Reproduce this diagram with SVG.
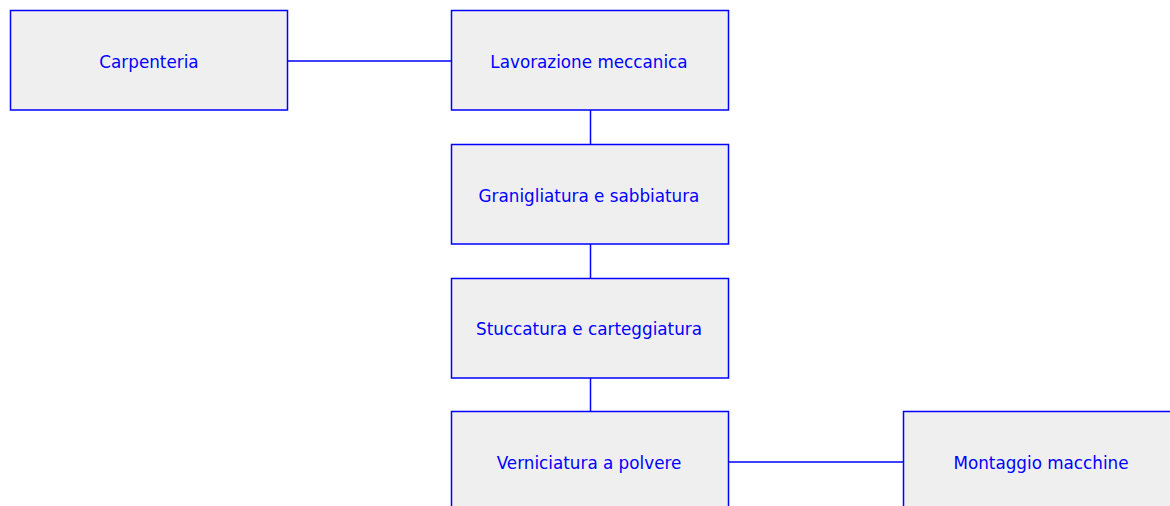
<svg xmlns="http://www.w3.org/2000/svg" width="1170" height="506" viewBox="0 0 1170 506">
<style>
.box{fill:#efefef;stroke:#0000ff;stroke-width:1.5}
.lbl{font-family:"DejaVu Sans",sans-serif;font-size:16.8px;fill:#0000ff;text-anchor:middle;dominant-baseline:central}
.conn{stroke:#0000ff;stroke-width:1.5;fill:none}
</style>
<rect width="1170" height="506" fill="#ffffff"/>
<g id="connectors">
<line class="conn" x1="288" y1="61" x2="451" y2="61"/>
<line class="conn" x1="590.5" y1="110" x2="590.5" y2="144"/>
<line class="conn" x1="590.5" y1="244" x2="590.5" y2="278"/>
<line class="conn" x1="590.5" y1="378" x2="590.5" y2="411"/>
<line class="conn" x1="728" y1="462" x2="903" y2="462"/>
</g>
<g id="carpenteria"><rect class="box" x="10.5" y="10.5" width="277" height="99.5"/><text class="lbl" x="149" y="62">Carpenteria</text></g>
<g id="lavorazione"><rect class="box" x="451.5" y="10.5" width="277" height="99.5"/><text class="lbl" x="589" y="62">Lavorazione meccanica</text></g>
<g id="granigliatura"><rect class="box" x="451.5" y="144.5" width="277" height="99.5"/><text class="lbl" x="589" y="196">Granigliatura e sabbiatura</text></g>
<g id="stuccatura"><rect class="box" x="451.5" y="278.5" width="277" height="99.5"/><text class="lbl" x="589" y="329">Stuccatura e carteggiatura</text></g>
<g id="verniciatura"><rect class="box" x="451.5" y="411.5" width="277" height="99.5"/><text class="lbl" x="589" y="463">Verniciatura a polvere</text></g>
<g id="montaggio"><rect class="box" x="903.5" y="411.5" width="277" height="99.5"/><text class="lbl" x="1041" y="463">Montaggio macchine</text></g>
</svg>
